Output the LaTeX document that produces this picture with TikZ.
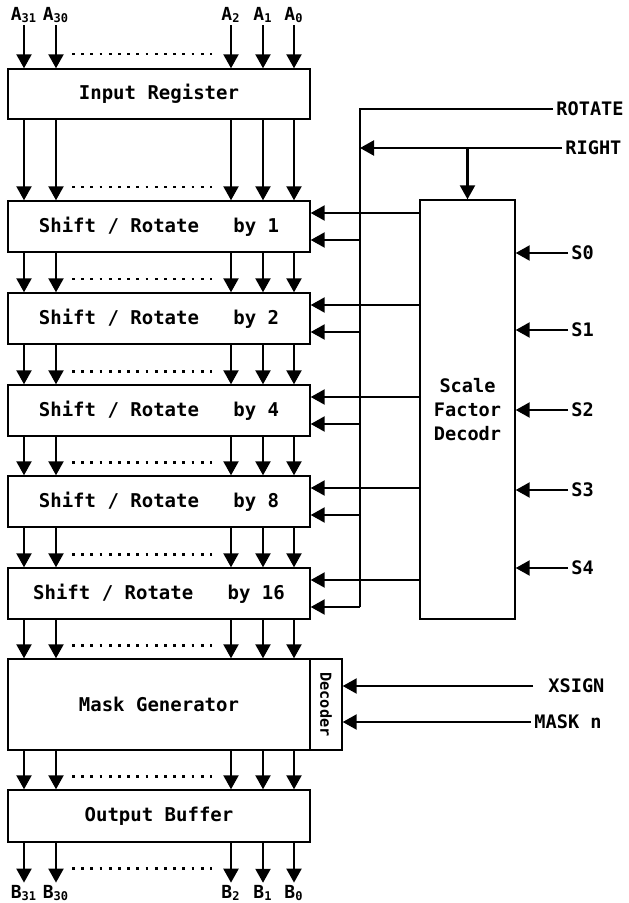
\documentclass[tikz,border=0pt]{standalone}
\usepackage{fontspec}
\newfontfamily\gfont{DejaVu Sans Mono}
\usetikzlibrary{arrows.meta, positioning, calc}

\tikzset{
  blk/.style={draw, line width=0.7pt, minimum width=151pt, inner sep=0pt, font=\gfont\bfseries\fontsize{9.5}{11}\selectfont},
  lbl/.style={font=\gfont\bfseries\fontsize{9.3}{12}\selectfont, inner sep=1.5pt},
  pin/.style={font=\gfont\bfseries\fontsize{9}{10}\selectfont, inner sep=1pt},
  arr/.style={line width=1.1pt, -{Triangle[width=7.5pt,length=7pt]}},
  wire/.style={line width=1.1pt},
  dots/.style={line width=1.2pt, dash pattern=on 1.4pt off 3.2pt}
}

\begin{document}
\begin{tikzpicture}[x=0.5pt,y=-0.5pt]
\useasboundingbox (0,0) rectangle (628,903);
% Bit columns
\coordinate (c1) at (24,0);
\coordinate (c2) at (56,0);
\coordinate (c3) at (231,0);
\coordinate (c4) at (263,0);
\coordinate (c5) at (294,0);
% Register stack
\node[blk, minimum height=25pt] (inreg) at (159,94) {Input Register};
\node[blk, minimum height=25.5pt] (sh1) at (159,226.5) {Shift / Rotate\ \ \ by 1};
\node[blk, minimum height=25.5pt] (sh2) at (159,318.5) {Shift / Rotate\ \ \ by 2};
\node[blk, minimum height=25.5pt] (sh3) at (159,410.5) {Shift / Rotate\ \ \ by 4};
\node[blk, minimum height=25.5pt] (sh4) at (159,501.5) {Shift / Rotate\ \ \ by 8};
\node[blk, minimum height=25.5pt] (sh5) at (159,593.5) {Shift / Rotate\ \ \ by 16};
\node[blk, minimum height=45.5pt] (mask) at (159,704.5) {Mask Generator};
\node[draw, line width=0.7pt, minimum width=16pt, minimum height=45.5pt, inner sep=0pt] (dec) at (326,704.5) {};
\node[lbl, font=\gfont\bfseries\fontsize{7.6}{9}\selectfont, rotate=-90] (dectxt) at (dec) {Decoder};
\node[blk, minimum height=26pt] (outbuf) at (159,816) {Output Buffer};
% Scale factor decoder
\node[draw, line width=0.7pt, minimum width=47.5pt, minimum height=209.5pt, inner sep=0pt, align=center, lbl] (sfd) at (467.5,409.5) {Scale\\Factor\\Decodr};
% Inputs and outputs
\foreach \n/\x/\t in {1/24/31, 2/56/30, 3/231/2, 4/263/1, 5/294/0} {
  \node[pin] (in\n) at (\x,15) {A\textsubscript{\t}};
  \node[pin] (out\n) at (\x,893) {B\textsubscript{\t}};
  \draw[arr] (in\n.south) -- (in\n.south |- inreg.north);
  \draw[arr] (outbuf.south -| out\n) -- (out\n.north);
}
\draw[dots] ($(c2 |- inreg.north)+(16,-14)$) -- ($(c3 |- inreg.north)+(-19,-14)$);
\draw[dots] ($(c2 |- out2.north)+(16,-14)$) -- ($(c3 |- out2.north)+(-19,-14)$);
% Bit lanes between stages
\foreach \u/\l in {inreg/sh1, sh1/sh2, sh2/sh3, sh3/sh4, sh4/sh5, sh5/mask, mask/outbuf} {
  \foreach \c in {c1,c2,c3,c4,c5}
    \draw[arr] (\c |- \u.south) -- (\c |- \l.north);
  \draw[dots] ($(c2 |- \l.north)+(16,-13)$) -- ($(c3 |- \l.north)+(-19,-13)$);
}
% Control lines
\node[lbl, anchor=west] (rot) at (553,109) {ROTATE};
\node[lbl, anchor=west] (right) at (562,148) {RIGHT};
\coordinate (bus) at (360,109);
\draw[wire] (rot.west) -- (bus) -- ($(bus |- sh5.east)+(0,13.5)$);
\draw[arr] (right.west) -- (bus |- right.west);
\draw[arr] (sfd.north |- right.west) -- (sfd.north);
\foreach \s in {sh1,sh2,sh3,sh4,sh5} {
  \draw[arr] ($(sfd.west |- \s.east)+(0,-13.5)$) -- ($(\s.east)+(0,-13.5)$);
  \draw[arr] ($(bus |- \s.east)+(0,13.5)$) -- ($(\s.east)+(0,13.5)$);
}
% Scale inputs
\foreach \n/\y in {0/253, 1/330, 2/410, 3/490, 4/568} {
  \node[lbl, anchor=west] (s\n) at (568,\y) {S\n};
  \draw[arr] (s\n.west) -- (sfd.east |- s\n.west);
}
% Mask inputs
\node[lbl, anchor=west] (xsign) at (545,686) {XSIGN};
\node[lbl, anchor=west] (maskn) at (531,722) {MASK n};
\draw[arr] ([xshift=-6pt]xsign.west) -- (dec.east |- xsign.west);
\draw[arr] (maskn.west) -- (dec.east |- maskn.west);
\end{tikzpicture}
\end{document}
